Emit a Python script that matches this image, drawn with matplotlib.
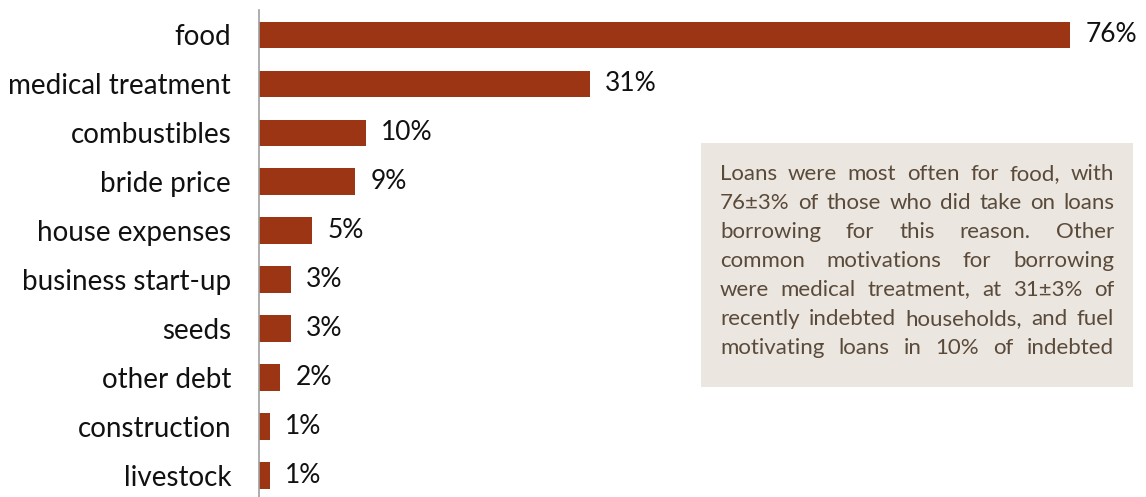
import matplotlib
matplotlib.use("Agg")
import matplotlib.pyplot as plt
from matplotlib.patches import Rectangle

# Reasons for borrowing (share of indebted households)
categories = ["food", "medical treatment", "combustibles", "bride price",
              "house expenses", "business start-up", "seeds", "other debt",
              "construction", "livestock"]
values = [76, 31, 10, 9, 5, 3, 3, 2, 1, 1]
value_labels = [f"{v}%" for v in values]

note_lines = [
    "Loans were most often for food, with",
    "76±3% of those who did take on loans",
    "borrowing for this reason. Other",
    "common motivations for borrowing",
    "were medical treatment, at 31±3% of",
    "recently indebted households, and fuel",
    "motivating loans in 10% of indebted",
]

BAR_COLOR = "#9C3513"
BOX_COLOR = "#EBE6E0"
NOTE_COLOR = "#5A4A3A"
FONT = ["Lato", "DejaVu Sans"]

W, H = 1146, 497
fig = plt.figure(figsize=(W / 100, H / 100), dpi=100)
ax = fig.add_axes([259 / W, 0, (80 * 10.67) / W, 1 - 10 / H])

y = list(range(len(categories)))
ax.barh(y, values, height=0.55, color=BAR_COLOR)
ax.set_xlim(0, 80)
ax.set_ylim(9.43, -0.51)

for yi, v, lab in zip(y, values, value_labels):
    ax.annotate(lab, (v, yi), xytext=(11, 0), textcoords="offset points",
                va="center", ha="left", fontsize=19, family=FONT, color="#111111")

ax.set_yticks(y)
ax.set_yticklabels(categories, fontsize=20, family=FONT, color="#111111")
ax.tick_params(axis="y", length=0, pad=20)
ax.set_xticks([])
for s in ["top", "right", "bottom"]:
    ax.spines[s].set_visible(False)
ax.spines["left"].set_color("#A0A0A0")
ax.spines["left"].set_linewidth(1.2)

# Note box with justified text
bx0, bx1, by0, by1 = 701, 1133, 143, 387
fig.patches.append(Rectangle((bx0 / W, 1 - by1 / H), (bx1 - bx0) / W, (by1 - by0) / H,
                             transform=fig.transFigure, facecolor=BOX_COLOR,
                             edgecolor="none", zorder=0))

renderer = fig.canvas.get_renderer()
tx0, tx1 = 720, 1114
line_y0, line_step = 174, 29
for i, line in enumerate(note_lines):
    words = line.split()
    texts = []
    widths = []
    yc = 1 - (line_y0 + i * line_step) / H
    for w in words:
        t = fig.text(0, yc, w, fontsize=16, family=FONT, color=NOTE_COLOR,
                     va="center", ha="left")
        texts.append(t)
        widths.append(t.get_window_extent(renderer).width)
    gap = (tx1 - tx0 - sum(widths)) / max(len(words) - 1, 1)
    x = tx0
    for t, wd in zip(texts, widths):
        t.set_x(x / W)
        x += wd + gap

fig.savefig("out.png", dpi=100)
